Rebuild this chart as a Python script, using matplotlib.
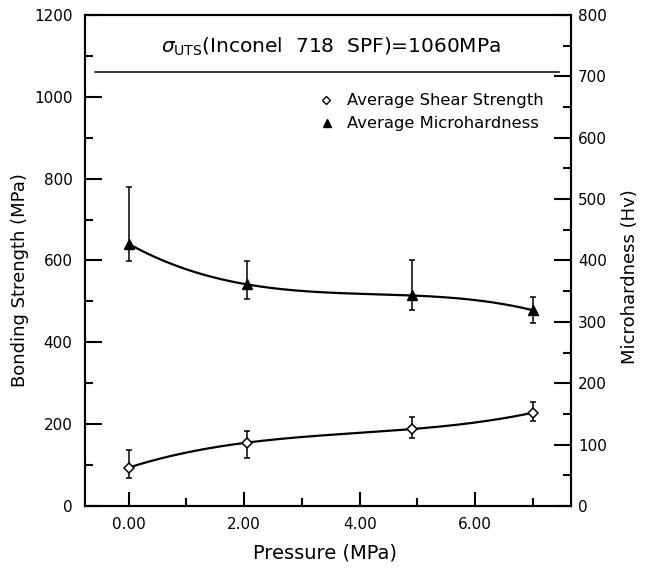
import numpy as np
import matplotlib
matplotlib.use("Agg")
import matplotlib.pyplot as plt
from matplotlib.ticker import MultipleLocator, FixedLocator

# Bonding pressure (MPa)
pressure = [0.0, 2.05, 4.9, 7.0]

# Average shear strength (MPa) with lower/upper error bar ends
shear_mean = [94, 155, 188, 228]
shear_low = [68, 117, 166, 208]
shear_high = [136, 183, 218, 255]

# Average microhardness (Hv) with lower/upper error bar ends
hard_mean = [427, 361, 343, 319]
hard_low = [399, 337, 319, 298]
hard_high = [519, 399, 401, 341]

uts_inconel = 1060  # MPa

x_ticks = [0, 2, 4, 6]
x_tick_labels = ["0.00", "2.00", "4.00", "6.00"]


def smooth_curve(x, y, n=200):
    """Cubic through the four measured points (exact interpolation)."""
    coef = np.polyfit(x, y, len(x) - 1)
    xs = np.linspace(min(x), max(x), n)
    return xs, np.polyval(coef, xs)


plt.rcParams["font.family"] = "DejaVu Sans"
plt.rcParams["mathtext.fontset"] = "dejavusans"

fig = plt.figure(figsize=(6.48, 5.71), dpi=100)
ax = fig.add_axes([0.131, 0.1138, 0.750, 0.860])
ax2 = ax.twinx()

lw = 1.5
for a in (ax, ax2):
    for s in a.spines.values():
        s.set_linewidth(lw)

# Shear strength on the left (MPa) axis
xs, ys = smooth_curve(pressure, shear_mean)
ax.plot(xs, ys, color="black", lw=1.6, zorder=2)
sm = np.array(shear_mean)
ax.errorbar(pressure, shear_mean,
            yerr=[sm - np.array(shear_low), np.array(shear_high) - sm],
            fmt="none", ecolor="black", elinewidth=1.1, capsize=2.5,
            capthick=1.1, zorder=3)
ax.plot(pressure, shear_mean, linestyle="none", marker="D", markersize=5.5,
        markerfacecolor="white", markeredgecolor="black",
        markeredgewidth=1.1, zorder=4)

# Microhardness on the right (Hv) axis
xh, yh = smooth_curve(pressure, hard_mean)
ax2.plot(xh, yh, color="black", lw=1.6, zorder=2)
hm = np.array(hard_mean)
ax2.errorbar(pressure, hard_mean,
             yerr=[hm - np.array(hard_low), np.array(hard_high) - hm],
             fmt="none", ecolor="black", elinewidth=1.1, capsize=2.5,
             capthick=1.1, zorder=3)
ax2.plot(pressure, hard_mean, linestyle="none", marker="^", markersize=7,
         color="black", zorder=4)

# UTS reference line
ax.plot([-0.58, 7.45], [uts_inconel, uts_inconel], color="black", lw=1.1)
ax.text(3.5, 1122, r"$\sigma_{\mathrm{UTS}}$(Inconel  718  SPF)=1060MPa",
        ha="center", va="center", fontsize=14.5)

# Legend drawn as markers + text
ax.plot([3.42], [992], linestyle="none", marker="D", markersize=4.5,
        markerfacecolor="white", markeredgecolor="black", markeredgewidth=1.0)
ax.plot([3.44], [935], linestyle="none", marker="^", markersize=6,
        color="black")
ax.text(3.78, 992, "Average Shear Strength", ha="left", va="center",
        fontsize=11.8)
ax.text(3.78, 935, "Average Microhardness", ha="left", va="center",
        fontsize=11.8)

ax.set_xlim(-0.76, 7.66)
ax.set_ylim(0, 1200)
ax2.set_ylim(0, 800)

ax.xaxis.set_major_locator(FixedLocator(x_ticks))
ax.set_xticklabels(x_tick_labels)
ax.xaxis.set_minor_locator(FixedLocator([1, 3, 5, 7]))
ax.yaxis.set_major_locator(MultipleLocator(200))
ax.yaxis.set_minor_locator(MultipleLocator(100))
ax2.yaxis.set_major_locator(MultipleLocator(100))
ax2.yaxis.set_minor_locator(MultipleLocator(50))

ax.tick_params(axis="x", which="major", direction="in", length=10,
               width=lw, pad=8, labelsize=11, top=False)
ax.tick_params(axis="x", which="minor", direction="in", length=5.8,
               width=lw, top=False)
ax.tick_params(axis="y", which="major", direction="in", length=12,
               width=lw, pad=9, labelsize=11, right=False)
ax.tick_params(axis="y", which="minor", direction="in", length=5.8,
               width=lw, right=False)
ax2.tick_params(axis="y", which="major", direction="in", length=12,
                width=lw, pad=5, labelsize=11)
ax2.tick_params(axis="y", which="minor", direction="in", length=5.8,
                width=lw)

fig.text(0.031, 1 - 280 / 571, "Bonding Strength (MPa)", rotation=90,
         ha="center", va="center", fontsize=13)
fig.text(0.972, 1 - 277 / 571, "Microhardness (Hv)", rotation=90,
         ha="center", va="center", fontsize=13)
fig.text(0.502, 1 - 553 / 571, "Pressure (MPa)", ha="center", va="center",
         fontsize=14)

fig.savefig("out.png", dpi=100)
